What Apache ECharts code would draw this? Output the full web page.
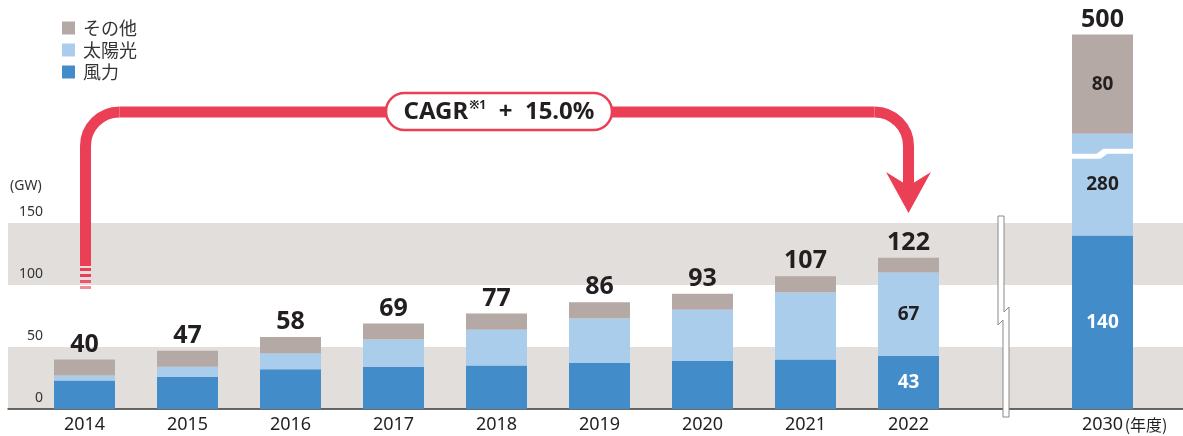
<!DOCTYPE html>
<html>
<head>
<meta charset="utf-8">
<script src="https://cdn.jsdelivr.net/npm/echarts@6/dist/echarts.min.js"></script>
<style>
  html, body { margin: 0; padding: 0; background: #fff; }
  #main { width: 1183px; height: 436px; }
</style>
</head>
<body>
<div id="main"></div>
<script>
// 実績（GW）
var years = ['2014', '2015', '2016', '2017', '2018', '2019', '2020', '2021', '2022'];
var wind  = [23, 26, 32, 34, 35, 37, 39, 40, 43];
var solar = [4, 8, 13, 22, 29, 36, 41, 54, 67];
var other = [13, 13, 13, 13, 13, 13, 13, 13, 12];

// 目標（GW）
var targetYear  = ['2030'];
var wind2030  = [140];
var solar2030 = [280];
var other2030 = [80];

// 軸
var yMin = 0, yMax = 150, yStep = 50;
// 2030年の棒は太陽光の途中を省略（205GW付近で198GW分を省く）
var breakAt = 205, breakSkip = 198;

var C_WIND = '#428cca', C_SOLAR = '#abcdec', C_OTHER = '#b4a9a5';
var C_BAND = '#e2dedc', C_RED = '#eb3f55', C_TEXT = '#231f20';
var FONT = '"Noto Sans", "Noto Sans CJK JP", sans-serif';

var totals = years.map(function (y, i) { return wind[i] + solar[i] + other[i]; });
var total2030 = [wind2030[0] + solar2030[0] + other2030[0]];
var last = years.length - 1;

function innerLabel(color, list) {
  var l = { show: true, position: 'inside', color: color, fontSize: 19, fontWeight: 'bold', fontFamily: FONT };
  if (list) l.formatter = function (p) { return list[p.dataIndex]; };
  return l;
}
function topLabel(list) {
  return {
    show: true, position: 'top', distance: 3, color: C_TEXT, fontSize: 25, fontWeight: 'bold',
    fontFamily: FONT, lineHeight: 24,
    formatter: function (p) { return list[p.dataIndex]; }
  };
}

var chart = echarts.init(document.getElementById('main'));

chart.setOption({
  animation: false,
  textStyle: { fontFamily: FONT },
  legend: {
    orient: 'vertical', left: 57, top: 14, itemWidth: 13, itemHeight: 13, itemGap: 4,
    icon: 'rect',
    data: ['その他', '太陽光', '風力'],
    textStyle: { fontSize: 18, color: '#333', lineHeight: 18, padding: [0, 0, 0, 3], fontFamily: '"Noto Sans CJK JP", sans-serif' }
  },
  grid: [
    { left: 8, right: 0, top: 223, bottom: 27 },      // 背景の帯
    { left: 33, width: 927, top: 223, bottom: 27 },   // 実績
    { left: 1072, width: 61, top: 34.5, bottom: 27 }  // 2030
  ],
  xAxis: [
    { gridIndex: 0, type: 'value', min: 0, max: 1, axisLabel: { show: false }, axisTick: { show: false },
      splitLine: { show: false }, axisLine: { show: true, onZero: false, lineStyle: { color: '#3a3a3a', width: 1.5 } } },
    { gridIndex: 1, type: 'category', data: years, axisLine: { show: false }, axisTick: { show: false },
      axisLabel: { color: C_TEXT, fontSize: 18, margin: 7 } },
    { gridIndex: 2, type: 'category', data: targetYear, axisLine: { show: false }, axisTick: { show: false },
      axisLabel: {
        color: C_TEXT, fontSize: 18, margin: 7,
        formatter: function (v) { return '{s|}{a|' + v + '}{b|(年度)}'; },
        rich: {
          s: { width: 46 },
          a: { fontSize: 18, color: C_TEXT },
          b: { width: 46, fontSize: 16, color: C_TEXT, fontFamily: '"Noto Sans CJK JP", sans-serif' }
        }
      } }
  ],
  yAxis: [
    { gridIndex: 0, type: 'value', min: yMin, max: yMax, interval: yStep,
      name: '(GW)', nameLocation: 'end', nameGap: 30,
      nameTextStyle: { align: 'left', color: '#333', fontSize: 14, padding: [0, 0, 0, 2] },
      axisLine: { show: false }, axisTick: { show: false }, splitLine: { show: false },
      splitArea: { show: true, areaStyle: { color: [C_BAND, '#ffffff'] } },
      axisLabel: { inside: true, align: 'right', margin: 35, verticalAlign: 'bottom', padding: [0, 0, 4, 0],
        color: '#333', fontSize: 14 } },
    { gridIndex: 1, type: 'value', min: yMin, max: yMax, show: false },
    { gridIndex: 2, type: 'value', min: 0, max: total2030[0] - breakSkip, show: false }
  ],
  series: [
    { name: '風力', type: 'bar', stack: 'a', xAxisIndex: 1, yAxisIndex: 1, barWidth: 61,
      itemStyle: { color: C_WIND },
      data: wind.map(function (v, i) { return i === last ? { value: v, label: innerLabel('#fff') } : v; }) },
    { name: '太陽光', type: 'bar', stack: 'a', xAxisIndex: 1, yAxisIndex: 1, barWidth: 61,
      itemStyle: { color: C_SOLAR },
      data: solar.map(function (v, i) { return i === last ? { value: v, label: innerLabel(C_TEXT) } : v; }) },
    { name: 'その他', type: 'bar', stack: 'a', xAxisIndex: 1, yAxisIndex: 1, barWidth: 61,
      itemStyle: { color: C_OTHER }, label: topLabel(totals), data: other },

    { name: '風力', type: 'bar', stack: 'b', xAxisIndex: 2, yAxisIndex: 2, barWidth: 61,
      itemStyle: { color: C_WIND }, label: innerLabel('#fff'), data: wind2030 },
    { name: '太陽光', type: 'bar', stack: 'b', xAxisIndex: 2, yAxisIndex: 2, barWidth: 61,
      itemStyle: { color: C_SOLAR }, label: innerLabel(C_TEXT, solar2030),
      data: solar2030.map(function (v) { return v - breakSkip; }) },
    { name: 'その他', type: 'bar', stack: 'b', xAxisIndex: 2, yAxisIndex: 2, barWidth: 61,
      itemStyle: { color: C_OTHER }, label: innerLabel(C_TEXT), data: other2030 },
    // 2030 合計
    { name: '合計', type: 'bar', stack: 'b', xAxisIndex: 2, yAxisIndex: 2, barWidth: 61,
      itemStyle: { color: 'transparent' }, label: topLabel(total2030), data: [0], silent: true }
  ]
});

// 省略記号・CAGR 矢印
var bx = chart.convertToPixel({ gridIndex: 2 }, [0, breakAt]);
var x0 = bx[0] - 31, y0 = bx[1];
var red = { stroke: C_RED, lineWidth: 11, fill: null };
var corner = 34;
chart.setOption({
  graphic: [
    { type: 'polygon', z: 50,
      shape: { points: [[x0 - 1, y0 - 1], [x0 + 25, y0 - 1], [x0 + 32, y0 - 6], [x0 + 62, y0 - 6],
                        [x0 + 62, y0 - 1], [x0 + 36, y0 - 1], [x0 + 29, y0 + 4], [x0 - 1, y0 + 4]] },
      style: { fill: '#fff' } },
    { type: 'polygon', z: 50,
      shape: { points: [[998, 216], [1004, 216], [1004, 312], [1009, 307], [1009, 417], [1003, 417], [1003, 320], [998, 325]] },
      style: { fill: '#fff', stroke: '#8a8a8a', lineWidth: 1 } },
    { type: 'line', z: 60, shape: { x1: 85.5, y1: 266, x2: 85.5, y2: 112 + corner }, style: red },
    { type: 'arc', z: 60, shape: { cx: 85.5 + corner, cy: 112 + corner, r: corner, startAngle: Math.PI, endAngle: Math.PI * 1.5, clockwise: true }, style: red },
    { type: 'line', z: 60, shape: { x1: 85.5 + corner, y1: 112, x2: 908.5 - corner, y2: 112 }, style: red },
    { type: 'arc', z: 60, shape: { cx: 908.5 - corner, cy: 112 + corner, r: corner, startAngle: Math.PI * 1.5, endAngle: Math.PI * 2, clockwise: true }, style: red },
    { type: 'line', z: 60, shape: { x1: 908.5, y1: 112 + corner, x2: 908.5, y2: 188 }, style: red },
    { type: 'polygon', z: 60,
      shape: { points: [[886, 172], [908.5, 213], [931, 172], [908.5, 186]] },
      style: { fill: C_RED } },
    { type: 'rect', z: 60, shape: { x: 80, y: 268, width: 11, height: 3 }, style: { fill: C_RED } },
    { type: 'rect', z: 60, shape: { x: 80, y: 274, width: 11, height: 3 }, style: { fill: C_RED } },
    { type: 'rect', z: 60, shape: { x: 80, y: 280, width: 11, height: 3 }, style: { fill: C_RED, opacity: 0.85 } },
    { type: 'rect', z: 60, shape: { x: 80, y: 286, width: 11, height: 3 }, style: { fill: C_RED, opacity: 0.6 } },
    { type: 'rect', z: 61, shape: { x: 386, y: 93, width: 226, height: 37, r: 18.5 },
      style: { fill: '#fff', stroke: C_RED, lineWidth: 2.5 } },
    { type: 'text', z: 62, x: 499, y: 112,
      style: {
        text: '{a|CAGR}{s|※1}{a|  +  15.0%}',
        align: 'center', verticalAlign: 'middle',
        rich: {
          a: { fontSize: 24, fontWeight: 'bold', fill: C_TEXT, fontFamily: FONT },
          s: { fontSize: 12, fontWeight: 'bold', fill: C_TEXT, verticalAlign: 'top', padding: [0, 0, 12, 1], fontFamily: FONT }
        }
      } }
  ]
});
</script>
</body>
</html>
